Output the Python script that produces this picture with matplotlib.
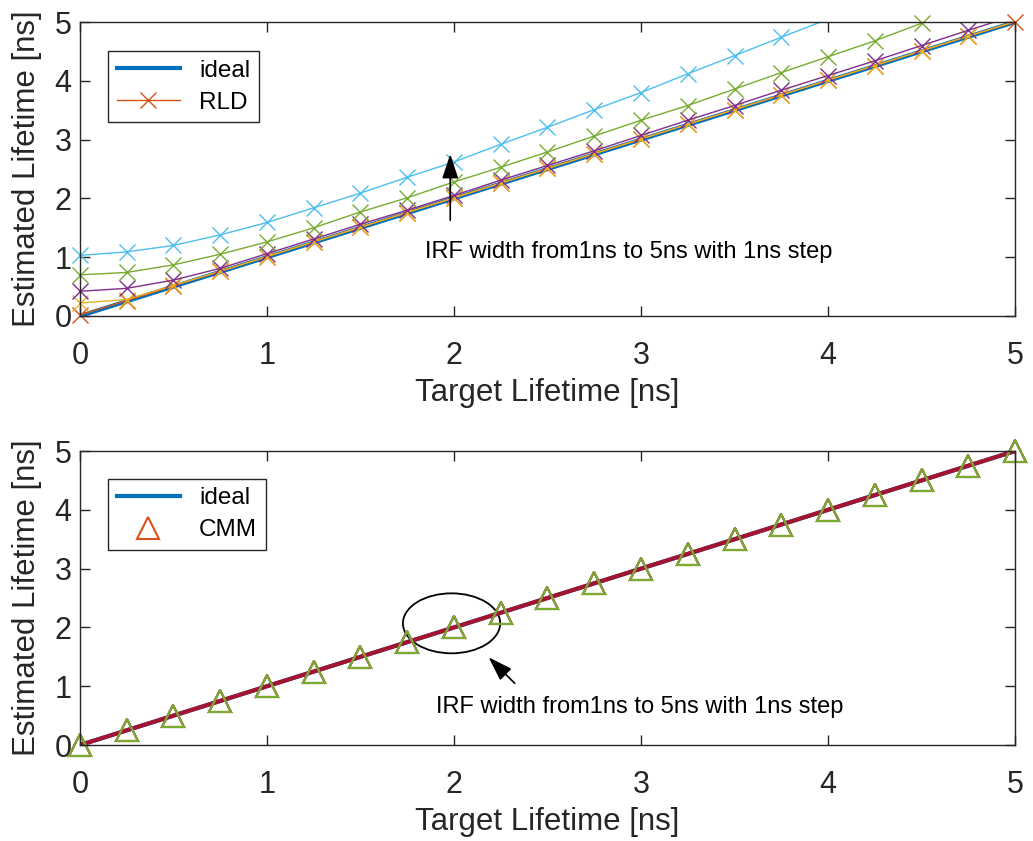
import numpy as np
import matplotlib
matplotlib.use("Agg")
import matplotlib.pyplot as plt
from matplotlib.patches import Ellipse

plt.rcParams['font.family'] = ['Liberation Sans', 'DejaVu Sans']

# target lifetimes [ns]
target = [0.0, 0.25, 0.5, 0.75, 1.0, 1.25, 1.5, 1.75, 2.0, 2.25, 2.5,
          2.75, 3.0, 3.25, 3.5, 3.75, 4.0, 4.25, 4.5, 4.75, 5.0]
ideal = target

# RLD estimates, IRF width 1..5 ns
rld_1ns = [0.02, 0.26, 0.51, 0.76, 1.01, 1.26, 1.51, 1.76, 2.01, 2.26, 2.51,
           2.76, 3.01, 3.26, 3.51, 3.76, 4.01, 4.26, 4.51, 4.76, 5.0]
rld_2ns = [0.22, 0.28, 0.52, 0.76, 1.01, 1.26, 1.51, 1.76, 2.01, 2.26, 2.51,
           2.76, 3.01, 3.26, 3.51, 3.76, 4.01, 4.26, 4.51, 4.76, 5.01]
rld_3ns = [0.42, 0.47, 0.61, 0.81, 1.06, 1.31, 1.56, 1.80, 2.05, 2.31, 2.56,
           2.81, 3.07, 3.33, 3.58, 3.84, 4.09, 4.34, 4.60, 4.86, 5.11]
rld_4ns = [0.70, 0.74, 0.87, 1.05, 1.26, 1.50, 1.77, 2.01, 2.28, 2.53, 2.79,
           3.06, 3.33, 3.58, 3.86, 4.14, 4.41, 4.68, 4.98, 5.25, 5.52]
rld_5ns = [1.03, 1.09, 1.20, 1.38, 1.59, 1.84, 2.09, 2.36, 2.62, 2.92, 3.21,
           3.51, 3.80, 4.12, 4.43, 4.74, 5.05, 5.36, 5.67, 5.98, 6.29]

# CMM estimates, IRF width 1..5 ns
cmm_1ns = [0.0, 0.25, 0.5, 0.75, 1.0, 1.25, 1.5, 1.75, 2.0, 2.25, 2.5,
           2.75, 3.0, 3.25, 3.5, 3.75, 4.0, 4.25, 4.5, 4.75, 5.0]
cmm_2ns = cmm_1ns
cmm_3ns = cmm_1ns
cmm_4ns = cmm_1ns
cmm_5ns = cmm_1ns

note = "IRF width from1ns to 5ns with 1ns step"

blue = (0, 0.447, 0.741)
orange = (0.85, 0.325, 0.098)
yellow = (0.929, 0.694, 0.125)
purple = (0.494, 0.184, 0.556)
green = (0.466, 0.674, 0.188)
cyan = (0.301, 0.745, 0.933)
darkred = (0.635, 0.078, 0.184)
axcol = (0.15, 0.15, 0.15)

fig = plt.figure(figsize=(10.33, 8.41), dpi=100)
ax1 = fig.add_axes([0.0774, 0.6243, 0.9052, 0.3495])
ax2 = fig.add_axes([0.0774, 0.1141, 0.9052, 0.3496])


def style(ax):
    ax.set_xlim(0, 5)
    ax.set_ylim(0, 5)
    ax.set_xticks([0, 1, 2, 3, 4, 5])
    ax.set_yticks([0, 1, 2, 3, 4, 5])
    ax.tick_params(direction='in', top=True, right=True, length=7, width=1,
                   labelsize=22, colors=axcol)
    ax.tick_params(axis='x', pad=18)
    ax.tick_params(axis='y', pad=6)
    for s in ax.spines.values():
        s.set_color(axcol)
        s.set_linewidth(1)
    ax.set_xlabel("Target Lifetime [ns]", fontsize=22.5, color=axcol, labelpad=5)
    ax.set_ylabel("Estimated Lifetime [ns]", fontsize=22.5, color=axcol, labelpad=9)


def series(ax, x, y, color, marker, lw, ms, mew, ls='-', label=None):
    # line is clipped to the axes, markers inside the limits are not
    x = np.asarray(x)
    y = np.asarray(y)
    if ls != 'none':
        ax.plot(x, y, color=color, lw=lw, ls=ls)
    keep = (y <= 5.0 + 1e-9) & (y >= 0)
    ax.plot(x[keep], y[keep], ls='none', marker=marker, ms=ms, mew=mew,
            mfc='none', mec=color, clip_on=False)
    # proxy for the legend
    ax.plot([], [], color=color, lw=lw, ls=ls, marker=marker, ms=ms, mew=mew,
            mfc='none', mec=color, label=label)


# top: RLD
ax1.plot(target, ideal, color=blue, lw=3, label="ideal")
series(ax1, target, rld_1ns, orange, 'x', 1, 12, 1, label="RLD")
for vals, c in [(rld_2ns, yellow), (rld_3ns, purple), (rld_4ns, green), (rld_5ns, cyan)]:
    series(ax1, target, vals, c, 'x', 1, 12, 1)
style(ax1)
ax1.legend(loc='upper left', bbox_to_anchor=(0.03, 0.9), fontsize=17.5,
           fancybox=False, edgecolor=axcol, framealpha=1, handlelength=2.6,
           borderpad=0.35, labelspacing=0.4, borderaxespad=0)
ax1.annotate("", xy=(1.98, 2.80), xytext=(1.98, 1.58),
             arrowprops=dict(arrowstyle="-|>,head_length=1.5,head_width=0.5",
                             color='black', lw=1.2))
ax1.text(1.845, 1.08, note, fontsize=17, va='center', ha='left')

# bottom: CMM
ax2.plot(target, ideal, color=blue, lw=3, label="ideal")
series(ax2, target, cmm_1ns, orange, '^', 1, 16, 1.5, ls='none', label="CMM")
ax2.plot(target, cmm_5ns, color=darkred, lw=3)
for vals, c in [(cmm_2ns, yellow), (cmm_3ns, purple), (cmm_4ns, green)]:
    series(ax2, target, vals, c, '^', 1, 16, 1.5, ls='none')
style(ax2)
ax2.legend(loc='upper left', bbox_to_anchor=(0.03, 0.905), fontsize=17.5,
           fancybox=False, edgecolor=axcol, framealpha=1, handlelength=2.6,
           borderpad=0.35, labelspacing=0.4, borderaxespad=0)
ax2.add_patch(Ellipse((1.987, 2.07), 0.52, 1.02, fill=False, color='black', lw=1.3))
ax2.annotate("", xy=(2.175, 1.525), xytext=(2.335, 1.017),
             arrowprops=dict(arrowstyle="-|>,head_length=1.5,head_width=0.5",
                             color='black', lw=1.2))
ax2.text(1.904, 0.64, note, fontsize=17, va='center', ha='left')

fig.savefig("out.png", dpi=100)
